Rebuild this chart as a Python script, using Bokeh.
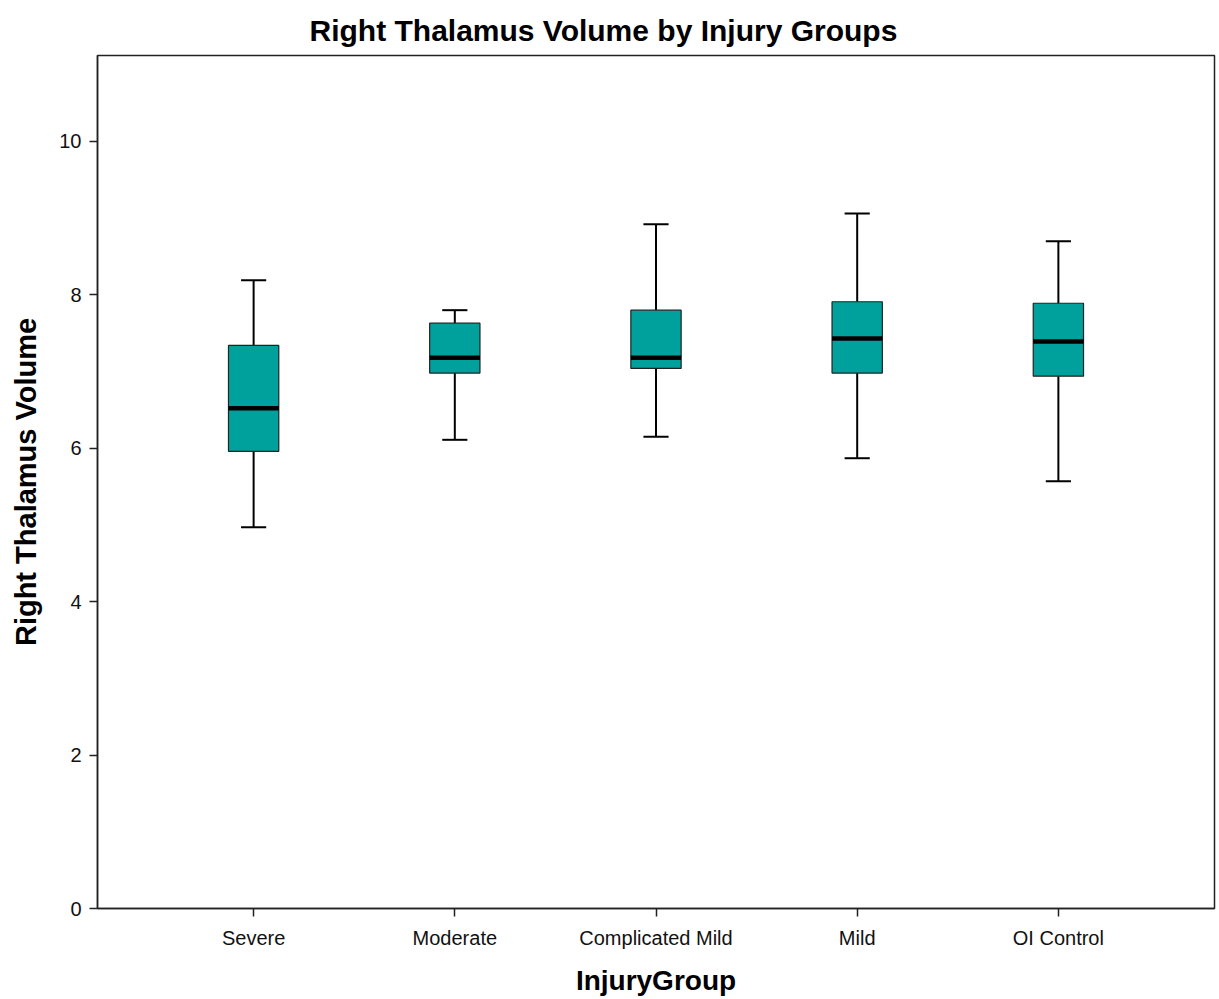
from bokeh.plotting import figure
from bokeh.models import Range1d, FixedTicker, ColumnDataSource, Title
from bokeh.embed import file_html
from bokeh.resources import INLINE

groups = ["Severe", "Moderate", "Complicated Mild", "Mild", "OI Control"]
whisker_low = [4.97, 6.11, 6.15, 5.87, 5.57]
q1 = [5.96, 6.98, 7.04, 6.98, 6.94]
median = [6.52, 7.18, 7.18, 7.43, 7.39]
q3 = [7.34, 7.63, 7.80, 7.91, 7.89]
whisker_high = [8.19, 7.80, 8.92, 9.06, 8.70]
y_ticks = [0, 2, 4, 6, 8, 10]

xs = list(range(1, len(groups) + 1))
box_w = 0.25
cap_w = 0.125

src = ColumnDataSource(dict(
    x=xs, lo=whisker_low, q1=q1, med=median, q3=q3, hi=whisker_high,
    x0=[x - box_w / 2 for x in xs], x1=[x + box_w / 2 for x in xs],
    c0=[x - cap_w / 2 for x in xs], c1=[x + cap_w / 2 for x in xs],
))

FONT = "Liberation Sans"

p = figure(width=1216, height=999, output_backend="svg", toolbar_location=None,
           x_range=Range1d(0.224, 5.776), y_range=Range1d(0, 11.12),
           min_border_left=97, min_border_right=2, min_border_top=55,
           min_border_bottom=91)
p.title = Title(text="Right Thalamus Volume by Injury Groups", align="left",
                offset=212,
                text_font=FONT, text_font_size="30px", text_font_style="bold",
                text_color="black", standoff=18)
p.xgrid.visible = False
p.ygrid.visible = False
p.outline_line_color = "#222222"
p.outline_line_width = 1.5
p.background_fill_color = "white"
p.border_fill_color = "white"

# whiskers
p.segment(x0="x", y0="q3", x1="x", y1="hi", source=src, line_color="black", line_width=2)
p.segment(x0="x", y0="lo", x1="x", y1="q1", source=src, line_color="black", line_width=2)
p.segment(x0="c0", y0="hi", x1="c1", y1="hi", source=src, line_color="black", line_width=2)
p.segment(x0="c0", y0="lo", x1="c1", y1="lo", source=src, line_color="black", line_width=2)
# boxes
p.vbar(x="x", width=box_w, bottom="q1", top="q3", source=src,
       fill_color="#00A19C", line_color="#222222", line_width=1.2)
# medians
p.segment(x0="x0", y0="med", x1="x1", y1="med", source=src, line_color="black", line_width=4.5)

# axes
p.xaxis.ticker = FixedTicker(ticks=xs)
p.xaxis.major_label_overrides = {x: g for x, g in zip(xs, groups)}
p.yaxis.ticker = FixedTicker(ticks=y_ticks)
p.xaxis.axis_label = "InjuryGroup"
p.yaxis.axis_label = "Right Thalamus Volume"
for ax in (p.xaxis[0], p.yaxis[0]):
    ax.axis_line_color = "#222222"
    ax.axis_line_width = 1.5
    ax.major_tick_line_color = "#222222"
    ax.major_tick_line_width = 1.5
    ax.major_tick_out = 8
    ax.major_tick_in = 0
    ax.minor_tick_line_color = None
    ax.major_label_text_font = FONT
    ax.major_label_text_font_size = "20px"
    ax.major_label_text_color = "#111111"
    ax.axis_label_text_font = FONT
    ax.axis_label_text_font_style = "bold"
    ax.axis_label_text_color = "black"
p.xaxis.axis_label_text_font_size = "28px"
p.yaxis.axis_label_text_font_size = "29px"
p.xaxis.major_label_standoff = 10
p.xaxis.axis_label_standoff = 13
p.yaxis.major_label_standoff = 8
p.yaxis.axis_label_standoff = 14

open("out.html", "w").write(file_html(p, INLINE))
